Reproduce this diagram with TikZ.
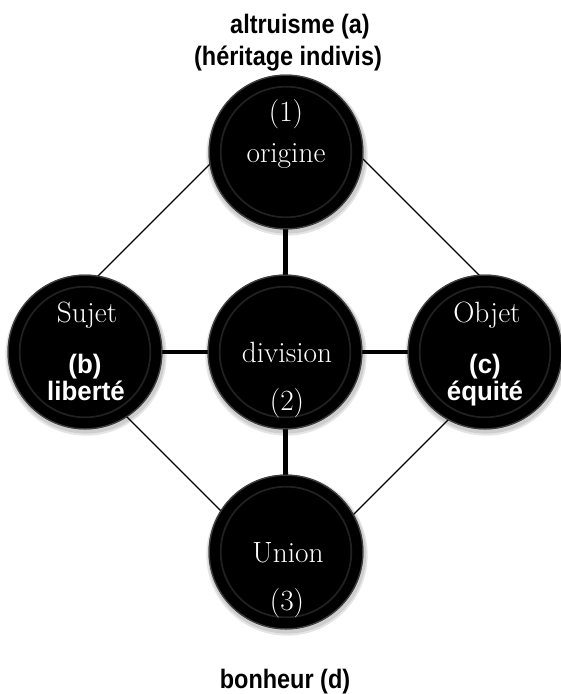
\documentclass[tikz,border=0pt]{standalone}
\usepackage{fontspec}
\newfontfamily\labfont[FakeStretch=0.88]{Liberation Sans}
\newfontfamily\inlabfont[FakeStretch=0.97]{Liberation Sans}
\usetikzlibrary{calc}
\tikzset{
 btn/.style={circle, minimum size=116.25pt, inner sep=0pt, fill=black, draw=none},
 ring/.style={line width=1.3pt, black!87!white},
 rim/.style={line width=0.9pt, black!55!white, opacity=0.55},
 diag/.style={line width=1pt, black},
 cross/.style={line width=3.6pt, black},
 serif/.style={text=white, font=\fontsize{22}{26}\selectfont, anchor=base, inner sep=0pt},
 lab/.style={font=\labfont\bfseries\fontsize{20}{24}\selectfont, anchor=base, inner sep=0pt},
 inlab/.style={font=\inlabfont\bfseries\fontsize{20}{24}\selectfont, anchor=base, inner sep=0pt, text=white},
 shadow/.style={black, opacity=0.10},
}
\begin{document}
\begin{tikzpicture}[x=0.75pt, y=-0.75pt]
\useasboundingbox (0,0) rectangle (561,694);
% centres
\coordinate (cT) at (286,152);
\coordinate (cL) at (85,352);
\coordinate (cM) at (285,352);
\coordinate (cR) at (485,352);
\coordinate (cB) at (286,552);
% diamond vertices
\coordinate (dT) at (289,85);
\coordinate (dL) at (42,332);
\coordinate (dR) at (536,332);
\coordinate (dB) at (289,579);
% shadows
\foreach \c in {cT,cL,cM,cR,cB}{
  \fill[shadow] ($(\c)+(1,3)$) circle (60.5pt);
  \fill[shadow] ($(\c)+(1,2.5)$) circle (59.3pt);
}
% connectors
\draw[diag] (dT) -- (dR) -- (dB) -- (dL) -- cycle;
\draw[cross] (cT) -- (cM);
\draw[cross] (cM) -- (cB);
\draw[cross] (cL) -- (cM);
\draw[cross] (cM) -- (cR);
% circles
\node[btn] (T) at (cT) {};
\node[btn] (L) at (cL) {};
\node[btn] (M) at (cM) {};
\node[btn] (R) at (cR) {};
\node[btn] (B) at (cB) {};
\foreach \c in {cT,cL,cM,cR,cB}{
  \draw[ring] (\c) circle (49pt);
  \draw[rim] (\c) circle (57.6pt);
}
% outside labels
\node[lab] (la) at (300,33) {altruisme (a)};
\node[lab] (lh) at (288,65) {(héritage indivis)};
\node[lab] (ld) at (285,688) {bonheur (d)};
% top
\node[serif] (t1) at (286,121) {(1)};
\node[serif] (t2) at (286,162) {origine};
% middle
\node[serif] (m1) at (287,362) {division};
\node[serif] (m2) at (287,410) {(2)};
% bottom
\node[serif] (b1) at (288,562) {Union};
\node[serif] (b2) at (287,610) {(3)};
% left
\node[serif] (l1) at (87,322) {Sujet};
\node[inlab] (l2) at (85,373) {(b)};
\node[inlab] (l3) at (86,400) {liberté};
% right
\node[serif] (r1) at (487,322) {Objet};
\node[inlab] (r2) at (485,373) {(c)};
\node[inlab] (r3) at (485,400) {équité};
\end{tikzpicture}
\end{document}
